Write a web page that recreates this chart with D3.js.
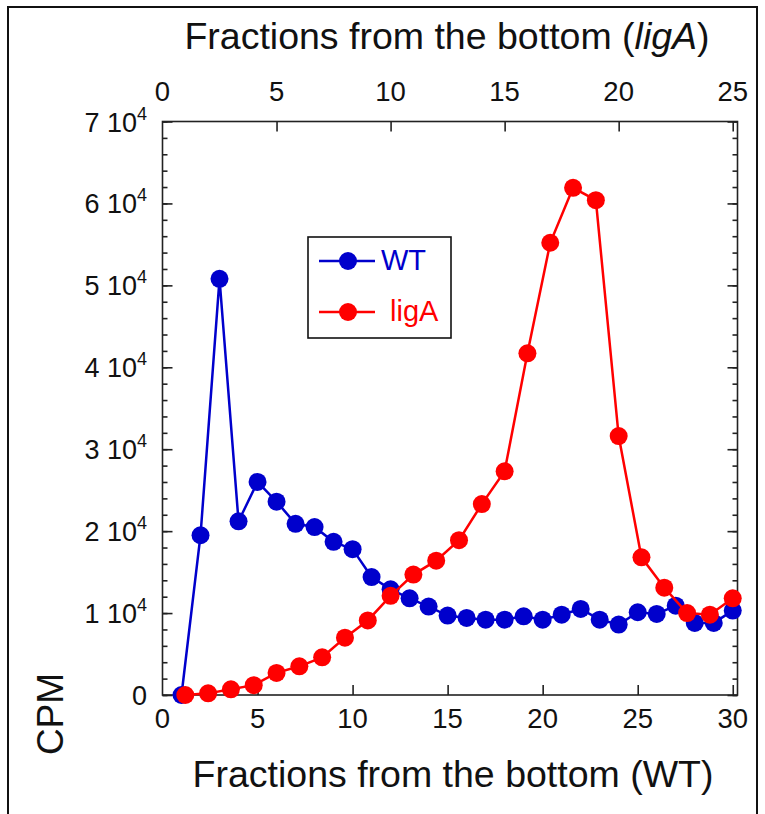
<html>
<script src="https://d3js.org/d3.v7.min.js"></script>
<style>
    body { margin: 0; background: #fff; }
    text { font-family: "Liberation Sans", Arial, sans-serif; }
</style>
<body>
</body>
<script>
    // data
    let wtFraction = [1,2,3,4,5,6,7,8,9,10,11,12,13,14,15,16,17,18,19,20,21,22,23,24,25,26,27,28,29,30];
    let wtCPM = [0, 19500, 50800, 21200, 26000, 23600, 20900, 20500, 18700, 17800,
                 14400, 12900, 11800, 10800, 9700, 9400, 9200, 9200, 9600, 9200,
                 9800, 10500, 9200, 8600, 10100, 9900, 10900, 8800, 8800, 10300];
    let ligaFraction = [1,2,3,4,5,6,7,8,9,10,11,12,13,14,15,16,17,18,19,20,21,22,23,24,25];
    let ligaCPM = [0, 200, 700, 1200, 2700, 3500, 4600, 7000, 9100, 12100,
                   14700, 16400, 18900, 23300, 27300, 41700, 55200, 61900, 60400, 31600,
                   16800, 13100, 10000, 9800, 11800];
    let yTicks = [0, 10000, 20000, 30000, 40000, 50000, 60000, 70000];
    let yMinorTicks = d3.range(0, 70001, 2000);
    let xTicksWT = [0, 5, 10, 15, 20, 25, 30];
    let xTicksLigA = [0, 5, 10, 15, 20, 25];
    let seriesNames = ["WT", "ligA"];
    let colors = ["#0000cc", "#ff0000"];

    let width = 765, height = 814;
    let plotL = 162.5, plotR = 737.5, plotT = 121.5, plotB = 695;

    let svg = d3.select("body").append("svg")
        .attr("width", width)
        .attr("height", height);

    // outer border of the figure
    svg.append("rect")
        .attr("x", 8).attr("y", 7)
        .attr("width", 749).attr("height", 830)
        .attr("fill", "none").attr("stroke", "#111").attr("stroke-width", 2);

    let x = d3.scaleLinear().domain([0, 30.25]).range([plotL, plotR]);
    let xTop = d3.scaleLinear().domain([0, 25.21]).range([plotL, plotR]);
    let y = d3.scaleLinear().domain([0, 70000]).range([plotB, plotT]);

    // frame
    svg.append("rect")
        .attr("x", plotL).attr("y", plotT)
        .attr("width", plotR - plotL).attr("height", plotB - plotT)
        .attr("fill", "none").attr("stroke", "#222").attr("stroke-width", 1.6);

    function styleAxis(g) {
        g.select(".domain").remove();
        g.selectAll("line").attr("stroke", "#222").attr("stroke-width", 1.6);
    }

    // y ticks, inward on both sides
    svg.append("g").attr("transform", "translate(" + plotL + ",0)")
        .call(d3.axisLeft(y).tickValues(yMinorTicks).tickSize(-5).tickFormat(""))
        .call(styleAxis);
    svg.append("g").attr("transform", "translate(" + plotL + ",0)")
        .call(d3.axisLeft(y).tickValues(yTicks).tickSize(-10).tickFormat(""))
        .call(styleAxis);
    svg.append("g").attr("transform", "translate(" + plotR + ",0)")
        .call(d3.axisRight(y).tickValues(yMinorTicks).tickSize(-5).tickFormat(""))
        .call(styleAxis);
    svg.append("g").attr("transform", "translate(" + plotR + ",0)")
        .call(d3.axisRight(y).tickValues(yTicks).tickSize(-10).tickFormat(""))
        .call(styleAxis);

    // x ticks, inward
    svg.append("g").attr("transform", "translate(0," + plotB + ")")
        .call(d3.axisBottom(x).tickValues(xTicksWT.slice(1)).tickSize(-10).tickFormat(""))
        .call(styleAxis);
    svg.append("g").attr("transform", "translate(0," + plotT + ")")
        .call(d3.axisTop(xTop).tickValues(xTicksLigA.slice(1)).tickSize(-10).tickFormat(""))
        .call(styleAxis);

    // y tick labels  "n 10^4"
    yTicks.forEach(function(t) {
        let lab = svg.append("text")
            .attr("x", 147)
            .attr("y", y(t) + 10)
            .attr("text-anchor", "end")
            .attr("font-size", 27)
            .attr("fill", "#111");
        if (t === 0) {
            lab.text("0");
        } else {
            lab.append("tspan").text((t / 10000) + " 10");
            lab.append("tspan").attr("dy", -12).attr("font-size", 18).text("4");
        }
    });

    // x tick labels
    svg.selectAll(".xlab").data(xTicksWT).enter().append("text")
        .attr("x", d => x(d))
        .attr("y", 728)
        .attr("text-anchor", "middle")
        .attr("font-size", 27.5)
        .attr("fill", "#111")
        .text(d => d);
    svg.selectAll(".xtoplab").data(xTicksLigA).enter().append("text")
        .attr("x", d => xTop(d))
        .attr("y", 101)
        .attr("text-anchor", "middle")
        .attr("font-size", 27.5)
        .attr("fill", "#111")
        .text(d => d);

    // axis titles
    let topTitle = svg.append("text")
        .attr("x", 447).attr("y", 49)
        .attr("text-anchor", "middle")
        .attr("font-size", 37.5)
        .attr("fill", "#111");
    topTitle.append("tspan").text("Fractions from the bottom (");
    topTitle.append("tspan").attr("font-style", "italic").text("ligA");
    topTitle.append("tspan").text(")");

    svg.append("text")
        .attr("x", 453).attr("y", 787)
        .attr("text-anchor", "middle")
        .attr("font-size", 37.5)
        .attr("fill", "#111")
        .text("Fractions from the bottom (WT)");

    svg.append("text")
        .attr("transform", "translate(63,714) rotate(-90)")
        .attr("text-anchor", "middle")
        .attr("font-size", 37)
        .attr("fill", "#111")
        .text("CPM");

    // series
    let line = d3.line();
    let wtPts = wtFraction.map((f, i) => [x(f), y(wtCPM[i])]);
    let ligaPts = ligaFraction.map((f, i) => [xTop(f), y(ligaCPM[i])]);

    svg.append("path")
        .attr("d", line(wtPts))
        .attr("fill", "none")
        .attr("stroke", colors[0])
        .attr("stroke-width", 2.5);
    svg.selectAll(".wt").data(wtPts).enter().append("circle")
        .attr("cx", d => d[0]).attr("cy", d => d[1])
        .attr("r", 9).attr("fill", colors[0]);

    svg.append("path")
        .attr("d", line(ligaPts))
        .attr("fill", "none")
        .attr("stroke", colors[1])
        .attr("stroke-width", 2.5);
    svg.selectAll(".liga").data(ligaPts).enter().append("circle")
        .attr("cx", d => d[0]).attr("cy", d => d[1])
        .attr("r", 9).attr("fill", colors[1]);

    // legend
    let legend = svg.append("g");
    legend.append("rect")
        .attr("x", 308).attr("y", 237)
        .attr("width", 143).attr("height", 101)
        .attr("fill", "#fff").attr("stroke", "#111").attr("stroke-width", 1.6);
    let legendY = [261, 312];
    let legendTextX = [381, 390];
    seriesNames.forEach(function(name, i) {
        legend.append("line")
            .attr("x1", 319).attr("x2", 375)
            .attr("y1", legendY[i]).attr("y2", legendY[i])
            .attr("stroke", colors[i]).attr("stroke-width", 2.5);
        legend.append("circle")
            .attr("cx", 348).attr("cy", legendY[i])
            .attr("r", 9).attr("fill", colors[i]);
        legend.append("text")
            .attr("x", legendTextX[i]).attr("y", legendY[i] + 9)
            .attr("font-size", 29)
            .attr("fill", colors[i])
            .text(name);
    });
</script>
</html>
